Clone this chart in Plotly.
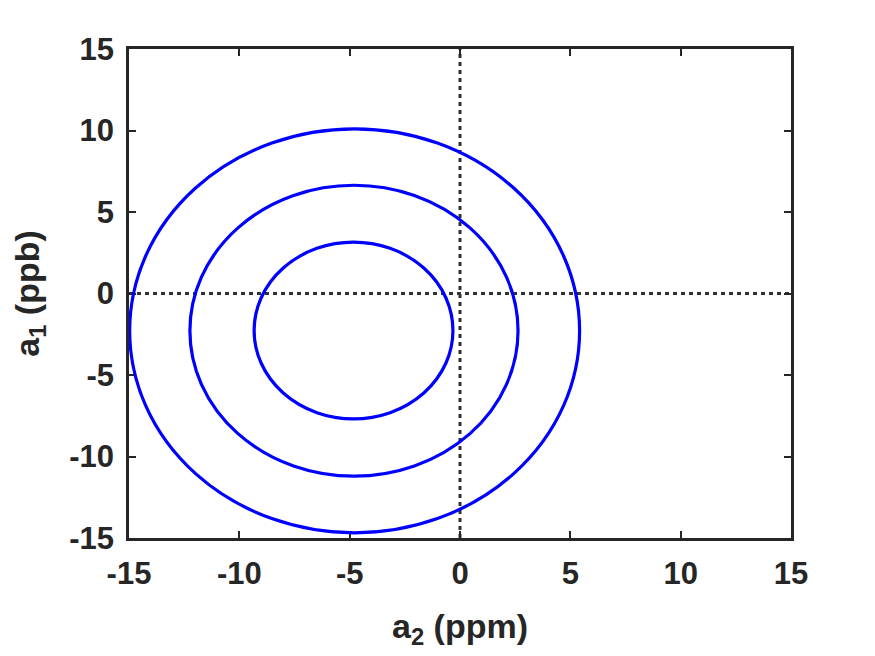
import plotly.graph_objects as go

# confidence ellipses, extents (line centres)
ell_left = [-14.97, -12.24, -9.33]
ell_right = [5.42, 2.63, -0.32]
ell_bottom = [-14.68, -11.21, -7.69]
ell_top = [10.10, 6.64, 3.15]

# dotted reference lines
zero_x = [0, 0]
zero_span = [-15, 15]

tick_vals = [-15, -10, -5, 0, 5, 10, 15]
tick_text = ["-15", "-10", "-5", "0", "5", "10", "15"]

INK = "#262626"
FONT = "Arial, Liberation Sans, sans-serif"

fig = go.Figure()

# vertical a2 = 0 and horizontal a1 = 0 dotted lines
fig.add_trace(go.Scatter(x=zero_x, y=zero_span, mode="lines",
                         line={"color": "#333333", "width": 3, "dash": "4px,4px"},
                         showlegend=False, hoverinfo="skip"))
fig.add_trace(go.Scatter(x=zero_span, y=zero_x, mode="lines",
                         line={"color": "#333333", "width": 3, "dash": "4px,4px"},
                         showlegend=False, hoverinfo="skip"))

for x0, x1, y0, y1 in zip(ell_left, ell_right, ell_bottom, ell_top):
    fig.add_shape(type="circle", xref="x", yref="y",
                  x0=x0, x1=x1, y0=y0, y1=y1,
                  line={"color": "#0000ff", "width": 3.2})

axis_common = {
    "range": [-15, 15],
    "tickvals": tick_vals,
    "ticktext": tick_text,
    "ticks": "inside",
    "ticklen": 7,
    "tickwidth": 2,
    "tickcolor": INK,
    "showline": True,
    "linewidth": 2.5,
    "linecolor": INK,
    "mirror": "ticks",
    "showgrid": False,
    "zeroline": False,
    "automargin": False,  # keep the plot box where the reference has it
    "tickfont": {"family": FONT, "size": 31, "color": INK, "weight": "bold"},
}

# page body has an 8px margin, so the figure sits at (8, 8)
fig.update_layout(
    width=875,
    height=656,
    paper_bgcolor="white",
    plot_bgcolor="white",
    margin={"l": 121, "r": 92, "t": 41, "b": 126},
    showlegend=False,
    xaxis={**axis_common,
           "ticklabelstandoff": 6,
           "title": {"text": "a<sub>2</sub> (ppm)", "standoff": 25,
                     "font": {"family": FONT, "size": 34, "color": INK, "weight": "bold"}}},
    yaxis={**axis_common,
           "ticklabelstandoff": 6,
           "title": {"text": "a<sub>1</sub> (ppb)", "standoff": 32,
                     "font": {"family": FONT, "size": 34, "color": INK, "weight": "bold"}}},
)

fig.write_html("out.html")
